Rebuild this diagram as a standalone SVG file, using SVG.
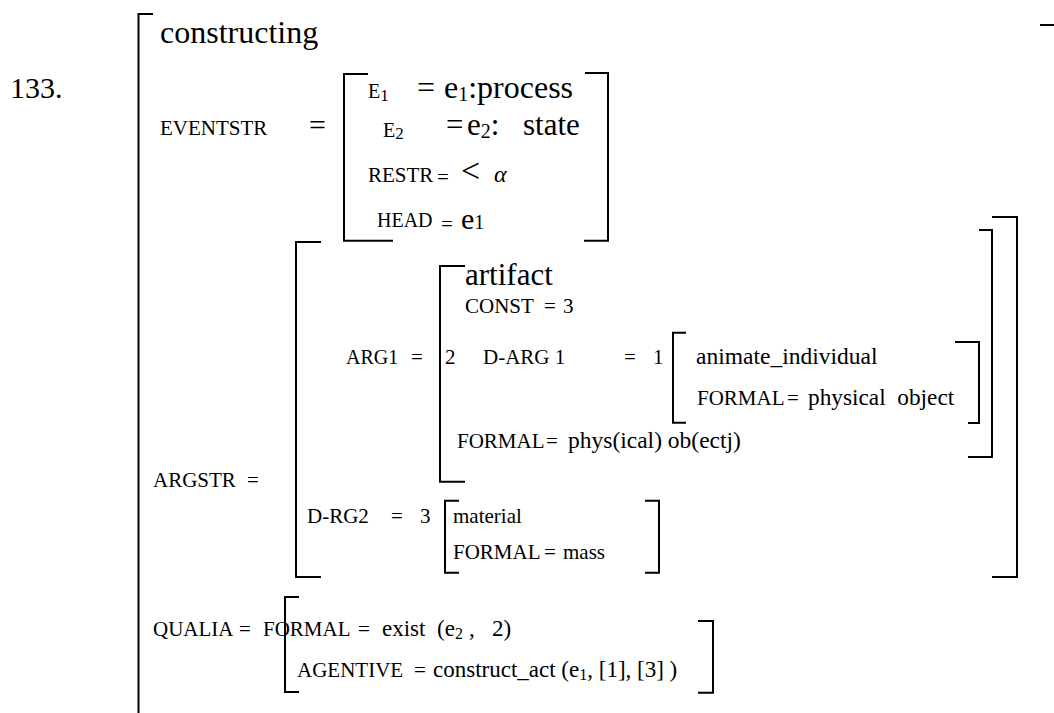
<svg xmlns="http://www.w3.org/2000/svg" width="1054" height="713" viewBox="0 0 1054 713">
<style>
.b{fill:none;stroke:#000;stroke-width:2;stroke-linecap:butt;stroke-linejoin:miter}
text{font-family:"Liberation Serif","Times New Roman",serif;fill:#000}
.k{font-size:21px}
.v{font-size:23px}
.L{font-size:32px}
.it{font-style:italic}
</style>
<rect width="1054" height="713" fill="#fff"/>
<g id="outer">
<path class="b" d="M153,14 H138.5 V713"/>
<path class="b" d="M1040,25 H1054"/>
<text x="10" y="98" font-size="30">133.</text>
<text class="L" x="160" y="43">constructing</text>
</g>
<g id="eventstr">
<text class="k" x="160" y="135">EVENTSTR</text>
<text font-size="30" x="309" y="135">=</text>
<path class="b" d="M368,74 H344 V240.7 H393"/>
<path class="b" d="M585,73 H608 V240.7 H584"/>
<text font-size="20" x="368" y="98">E<tspan font-size="17" dy="3">1</tspan></text>
<text class="L" x="417" y="98">=</text>
<text class="L" x="444" y="98">e<tspan font-size="20" dy="3">1</tspan><tspan dy="-3">:process</tspan></text>
<text font-size="20" x="383" y="137">E<tspan font-size="17" dy="2">2</tspan></text>
<text font-size="31" x="446" y="135">=</text>
<text font-size="31" x="467" y="135">e<tspan font-size="20" dy="3">2</tspan><tspan dy="-3">:</tspan><tspan x="523">state</tspan></text>
<text class="k" x="368" y="182">RESTR</text>
<text class="k" x="437" y="184">=</text>
<text font-size="34" x="461" y="182">&lt;</text>
<text class="it" font-size="24" x="494" y="182">α</text>
<text font-size="20" x="377" y="227">HEAD</text>
<text class="k" x="441" y="231">=</text>
<text font-size="30" x="461" y="229">e<tspan font-size="20">1</tspan></text>
</g>
<g id="argstr">
<text class="k" x="153" y="487">ARGSTR</text>
<text class="k" x="247" y="487">=</text>
<path class="b" d="M321,242 H296 V577 H321"/>
<path class="b" d="M992,217 H1017 V577 H992"/>
<g id="arg1">
<text font-size="20" x="346" y="364">ARG1</text>
<text class="k" x="411" y="364">=</text>
<path class="b" d="M465,266 H440 V481.7 H465"/>
<path class="b" d="M979,230 H992 V457 H968"/>
<text font-size="31" x="465" y="285">artifact</text>
<text class="k" x="465" y="313">CONST</text>
<text class="k" x="544" y="313">=</text>
<text class="k" x="563" y="313">3</text>
<text class="k" x="445" y="364">2</text>
<text class="k" x="483" y="364">D-ARG 1</text>
<text class="k" x="624" y="364">=</text>
<text class="k" x="653" y="364">1</text>
<g id="animate">
<path class="b" d="M686,332.7 H673 V422.7 H686"/>
<path class="b" d="M955,342 H979 V423 H968"/>
<text font-size="23.5" x="696" y="364">animate_individual</text>
<text class="k" x="697" y="405">FORMAL</text>
<text class="k" x="787" y="405">=</text>
<text font-size="23.3" x="808" y="405" xml:space="preserve">physical  object</text>
</g>
<text class="k" x="457" y="448">FORMAL</text>
<text class="k" x="546" y="448">=</text>
<text font-size="23.5" x="568" y="448">phys(ical) ob(ectj)</text>
</g>
<g id="drg2">
<text class="k" x="307" y="523">D-RG2</text>
<text class="k" x="391" y="523">=</text>
<text class="k" x="420" y="523">3</text>
<path class="b" d="M459,500.7 H445 V572.7 H459"/>
<path class="b" d="M645,500.7 H659 V572.7 H645"/>
<text class="k" x="453" y="523">material</text>
<text class="k" x="453" y="559">FORMAL</text>
<text class="k" x="544" y="559">=</text>
<text class="k" x="563" y="559">mass</text>
</g>
</g>
<g id="qualia">
<text class="k" x="153" y="636">QUALIA</text>
<text class="k" x="239" y="636">=</text>
<path class="b" d="M299,597 H285 V692 H299"/>
<path class="b" d="M698,621 H713 V692.7 H698"/>
<text class="k" x="263" y="636">FORMAL</text>
<text class="k" x="358" y="636">=</text>
<text class="v" x="382" y="636">exist<tspan x="437">(e</tspan><tspan font-size="16" dy="3">2</tspan><tspan x="469" dy="-3">,</tspan><tspan x="492">2)</tspan></text>
<text class="k" x="297" y="677">AGENTIVE</text>
<text class="k" x="414" y="677">=</text>
<text class="v" x="433" y="677">construct_act (e<tspan font-size="16" dy="3">1</tspan><tspan dy="-3">, [1], [3] )</tspan></text>
</g>
</svg>
